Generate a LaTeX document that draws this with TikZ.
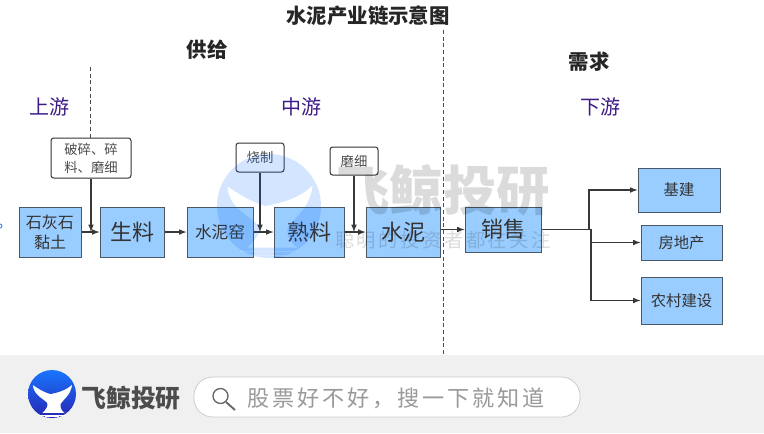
\documentclass[tikz,border=0pt]{standalone}
\usepackage{fontspec}
\setmainfont{Noto Sans CJK SC}
\newfontfamily\spaced[LetterSpace=13]{Noto Sans CJK SC}
\usetikzlibrary{arrows}
\definecolor{boxblue}{HTML}{99CCFF}
\definecolor{boxline}{HTML}{4A5866}
\definecolor{flowline}{HTML}{383838}
\definecolor{streamtext}{HTML}{3C1C86}
\definecolor{band}{HTML}{F0F0F0}
\tikzset{
 boxsize/.style 2 args={minimum width=#1*0.75pt, minimum height=#2*0.75pt},
 matbox/.style={draw=boxline, fill=boxblue, line width=0.75pt, inner sep=0pt, text=black!80, align=center},
 stepbox/.style={draw=black!80, fill=white, rounded corners=2pt, line width=0.75pt, inner sep=0pt, text=black!70, align=center, font=\fontsize{10}{13.5}\selectfont},
 flow/.style={->, >=latex, draw=flowline, line width=0.9pt},
 heading/.style={font=\fontsize{15.3}{18}\selectfont\bfseries, text=black!85, inner sep=0pt},
 stream/.style={font=\fontsize{15}{18}\selectfont, text=streamtext, inner sep=0pt},
 divider/.style={densely dashed, draw=black!70, line width=0.7pt},
 whale/.pic={
  \path[pic actions, even odd rule] (0,0) circle (1)
   (-0.80,-0.38) .. controls (-0.45,-0.14) and (-0.25,-0.05) .. (-0.06,0)
   .. controls (0.25,-0.06) and (0.6,-0.16) .. (0.84,-0.40)
   .. controls (0.80,0.05) and (0.45,0.25) .. (0.36,0.42)
   .. controls (0.33,0.58) and (0.42,0.72) .. (0.55,0.80)
   -- (-0.42,0.80)
   .. controls (-0.25,0.65) and (-0.16,0.5) .. (-0.2,0.38)
   .. controls (-0.35,0.2) and (-0.78,0.05) .. (-0.80,-0.38) -- cycle;
  \draw[white, line width=0.8pt] (-0.55,0.88) -- (0.55,0.88) (-0.3,0.95) -- (0.3,0.95);
 }
}
\begin{document}
\begin{tikzpicture}[x=0.75pt,y=-0.75pt]
   \useasboundingbox (0,0) rectangle (764,433);
   \fill[band] (0,355) rectangle (764,433);
   \draw[blue!60!cyan, line width=0.5pt] (0,226) circle (2);
   % headings
   \node[heading] (title) at (368,16) {水泥产业链示意图};
   \node[heading] (supply) at (207,50) {供给};
   \node[heading] (demand) at (589,62) {需求};
   \node[stream] (upstream) at (49,107) {上游};
   \node[stream] (midstream) at (301,107) {中游};
   \node[stream] (downstream) at (600,107) {下游};
   % dividers
   \coordinate (dashtop) at (90,67);
   \coordinate (midtop) at (443,30);
   \coordinate (midbottom) at (443,355);
   \draw[divider] (midtop) -- (midbottom);
   % material boxes
   \node[matbox, boxsize={62}{50}, font=\fontsize{12}{15}\selectfont] (stone) at (50,232) {石灰石\\黏土};
   \node[matbox, boxsize={64}{50}, font=\fontsize{16.5}{20}\selectfont] (raw) at (132,232) {生料};
   \node[matbox, boxsize={66}{50}, font=\fontsize{12.5}{15}\selectfont] (kiln) at (220,232) {水泥窑};
   \node[matbox, boxsize={70}{50}, font=\fontsize{16.5}{20}\selectfont] (clinker) at (309,232) {熟料};
   \node[matbox, boxsize={74}{50}, font=\fontsize{16.5}{20}\selectfont] (cement) at (403,232) {水泥};
   \node[matbox, boxsize={76}{45}, font=\fontsize{16.5}{20}\selectfont] (sales) at (503,229.5) {销售};
   \node[matbox, boxsize={82}{44}, font=\fontsize{11.5}{14}\selectfont] (infra) at (679,190) {基建};
   \node[matbox, boxsize={81}{35}, font=\fontsize{11.5}{14}\selectfont] (estate) at (681.5,242.5) {房地产};
   \node[matbox, boxsize={81}{47}, font=\fontsize{11.5}{14}\selectfont] (rural) at (681.5,300.5) {农村建设};
   % process boxes
   \node[stepbox, boxsize={80}{40}] (crush) at (91,158) {破碎、碎\\料、磨细};
   \node[stepbox, boxsize={48}{29}] (burn) at (260,157.5) {烧制};
   \node[stepbox, boxsize={48}{28}] (grind) at (354,161) {磨细};
   \draw[divider] (dashtop) -- (dashtop |- crush.north);
   % flows
   \draw[flow] (stone) -- (raw);
   \draw[flow] (raw) -- (kiln);
   \draw[flow] (kiln) -- (clinker);
   \draw[flow] (clinker) -- (cement);
   \draw[flow] (cement.east |- sales.west) -- (sales.west);
   \draw[flow] (crush.south) -- (crush.south |- stone.east);
   \draw[flow] (burn.south) -- (burn.south |- kiln.east);
   \draw[flow] (grind.south) -- (grind.south |- clinker.east);
   \coordinate (forkup) at (589,229.5);
   \coordinate (forkdown) at (591,229.5);
   \draw[flow] (sales.east) -- (forkup) |- (infra.west);
   \draw[flow] (sales.east) -- (forkdown) |- (estate.west);
   \draw[flow] (sales.east) -- (forkdown) |- (rural.west);
   % watermark
   \pic[fill=blue!60!cyan, opacity=0.17] (markwhale) at (269,206) [scale=52] {whale};
   \node[font=\fontsize{40}{44}\selectfont\bfseries, text=black, opacity=0.14, inner sep=0pt] (markname) at (443,190) {飞鲸投研};
   \node[font=\fontsize{14.5}{18}\spaced, text=black, opacity=0.14, inner sep=0pt] (marktag) at (443,240) {聪明的投资者都在关注};
   % footer
   \fill[white] (52,394) circle (24);
   \pic[shade, top color=blue!60!cyan!90, bottom color=blue!65!black!85, shading angle=0] (logowhale) at (52,394) [scale=24] {whale};
   \node[font=\fontsize{18.6}{22}\selectfont\bfseries, text=black!70, inner sep=0pt] (logoname) at (131,398) {飞鲸投研};
   \node[draw=black!20, fill=white, rounded corners=14pt, boxsize={386}{40}, line width=0.6pt] (searchbar) at (387,397) {};
   \draw[black!60, line width=1pt] (220.5,396) circle (7.5);
   \draw[black!60, line width=1.4pt] (226,402) -- (235,410);
   \node[font=\fontsize{16.6}{20}\spaced, text=black!40, inner sep=0pt, anchor=west] (searchtext) at (247,398) {股票好不好，搜一下就知道};
  \end{tikzpicture}
\end{document}
